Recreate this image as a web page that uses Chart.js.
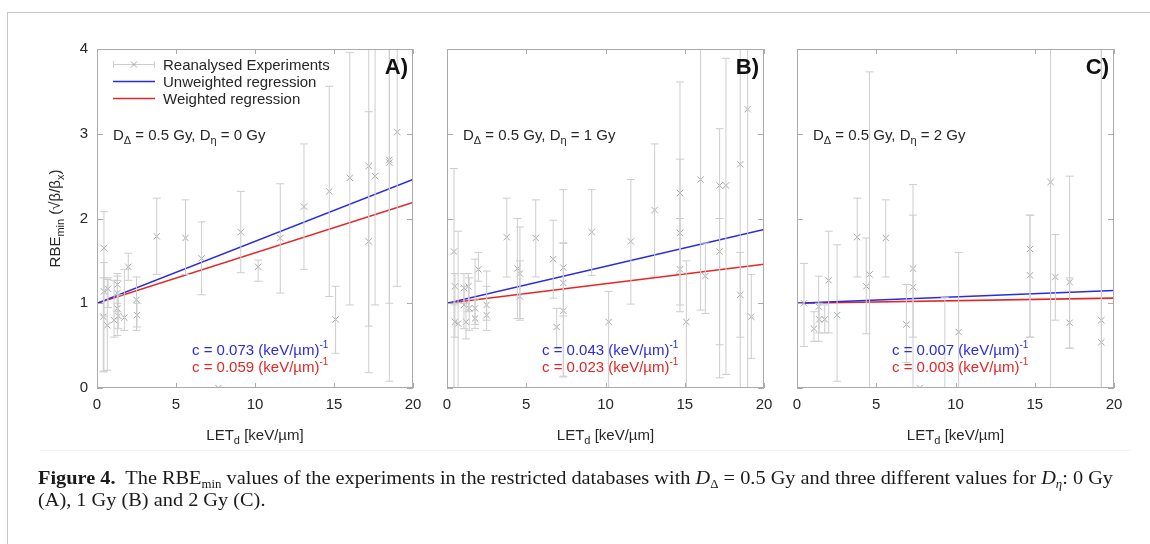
<!DOCTYPE html>
<html><head><meta charset="utf-8">
<script src="https://cdn.jsdelivr.net/npm/chart.js@4.4.1/dist/chart.umd.min.js"></script>
<style>
html,body{margin:0;padding:0;background:#fff;width:1150px;height:544px;overflow:hidden;}
#wrap{position:relative;width:1150px;height:544px;}
canvas{position:absolute;left:0;top:0;}
#frame{position:absolute;left:7px;top:12px;width:1160px;height:560px;border-left:1px solid #c6c6c6;border-top:1px solid #c6c6c6;}
#sep{position:absolute;left:40px;top:450px;width:1090px;height:1px;background:#f3f3f3;}
#cap{position:absolute;left:38px;top:467px;font-family:"Liberation Serif","Times New Roman",serif;font-size:19px;line-height:22px;color:#1a1a1a;white-space:nowrap;transform-origin:0 0;}
#cap sub{font-size:12px;vertical-align:-4px;line-height:0;}
</style></head><body>
<div id="wrap">
<div id="frame"></div><div id="sep"></div>
<canvas id="cA" width="1150" height="544"></canvas>
<canvas id="cB" width="1150" height="544"></canvas>
<canvas id="cC" width="1150" height="544"></canvas>
<div id="cap"><span id="l1"><b>Figure 4.</b>&nbsp; The RBE<sub>min</sub> values of the experiments in the restricted databases with <i>D</i><sub>Δ</sub> = 0.5 Gy and three different values for <i>D</i><sub><i>η</i></sub>: 0 Gy</span><br>(A), 1 Gy (B) and 2 Gy (C).</div>
</div>
<script>
// ---------- data ----------
const xTicks = [0, 5, 10, 15, 20];
const yTicks = [0, 1, 2, 3, 4];
const fitX = [0, 20];

// Panel A  (D_eta = 0 Gy)
const letA = [0.40,0.44,0.44,0.65,0.70,1.08,1.29,1.29,1.29,1.35,1.73,1.98,2.50,2.53,3.78,5.60,6.62,7.68,9.10,10.2,11.6,13.1,14.7,15.1,16.0,17.2,17.2,17.6,18.5,18.5,19.0];
const rbeA = [0.84,1.65,1.14,0.74,1.17,0.80,1.22,1.12,0.94,0.85,0.83,1.43,1.04,0.86,1.79,1.77,1.53,0.00,1.84,1.43,1.77,2.14,2.32,0.81,2.48,2.62,1.73,2.50,2.69,2.66,3.02];
const loA  = [0.19,0.20,0.85,0.21,0.95,0.60,1.00,0.90,0.62,0.70,0.68,1.27,0.68,0.72,1.34,1.34,1.10,0.00,1.36,1.26,1.12,1.40,1.08,0.41,0.98,0.18,0.73,0.98,0.08,1.00,1.20];
const hiA  = [1.30,2.08,1.48,1.28,1.30,1.27,1.35,1.32,1.27,1.10,1.40,1.59,1.31,1.00,2.24,2.22,1.96,0.00,2.32,1.51,2.41,2.88,3.56,1.20,3.96,3.26,4.60,4.50,5.00,4.50,5.00];
const unwA = [1.00, 2.46];
const wA   = [1.00, 2.19];

// Panel B  (D_eta = 1 Gy)
const letB = [0.44,0.50,0.50,0.70,1.07,1.07,1.20,1.35,1.40,1.77,1.77,1.98,2.50,2.50,3.77,4.44,4.60,4.60,5.60,6.70,6.92,7.34,7.34,7.34,9.13,10.2,11.6,13.1,14.7,14.7,14.7,15.1,16.0,16.3,17.2,17.2,17.6,18.5,18.5,18.97,19.2];
const rbeB = [1.61,1.20,0.78,0.76,1.18,0.98,0.78,1.20,0.94,0.82,0.94,1.40,0.86,0.98,1.78,1.41,1.35,1.08,1.77,1.52,0.72,1.42,1.24,0.91,1.84,0.78,1.73,2.10,2.30,1.83,1.40,0.78,2.46,1.32,2.39,1.61,2.39,2.64,1.10,3.29,0.84];
const loB  = [0.00,0.98,0.60,0.00,1.00,0.70,0.58,0.90,0.68,0.70,0.75,1.26,0.68,0.80,1.31,0.82,0.80,0.82,1.31,1.06,0.47,0.13,0.85,0.14,1.33,0.00,0.99,1.32,0.98,1.35,0.90,0.00,0.92,0.88,0.51,0.12,0.16,0.00,0.60,0.00,0.35];
const hiB  = [2.59,1.35,1.00,1.85,1.35,1.20,1.00,1.35,1.30,1.05,1.52,1.60,1.38,1.20,2.24,2.00,1.90,1.50,2.22,1.98,0.94,2.34,1.71,1.71,2.34,1.14,2.46,2.88,3.61,2.70,2.00,1.50,4.50,1.71,3.06,2.00,3.89,4.50,1.60,5.00,1.34];
const unwB = [1.00, 1.87];
const wB   = [1.00, 1.46];

// Panel C  (D_eta = 2 Gy)
const letC = [0.44,1.07,1.37,1.40,1.75,2.00,2.53,3.80,4.37,4.58,5.60,6.90,7.32,7.32,7.74,9.33,10.2,14.7,14.7,16.0,16.3,17.2,17.2,19.2,19.2];
const rbeC = [1.00,0.70,0.96,0.81,0.81,1.27,0.86,1.78,1.20,1.34,1.77,0.75,1.41,1.19,0.00,-0.30,0.66,1.64,1.33,2.43,1.31,1.25,0.77,0.80,0.54];
const loC  = [0.49,0.55,0.55,0.65,0.65,0.65,0.08,1.31,0.64,0.00,1.31,0.30,0.60,0.00,0.00,-1.0,0.00,0.60,0.60,0.00,0.80,0.47,0.47,0.00,0.00];
const hiC  = [1.47,0.90,1.32,1.00,0.98,1.85,1.69,2.24,1.77,3.73,2.22,1.22,2.40,2.04,0.00,1.07,1.60,2.04,2.04,5.00,1.81,2.50,1.30,5.00,5.00];
const unwC = [1.00, 1.15];
const wC   = [1.00, 1.06];

// ---------- styling ----------
const FONT = '"Liberation Sans", Arial, sans-serif';
const BLUE = '#2a2ae0', RED = '#e32626', TXT = '#262626';
const FRAME = '#ababab', ERR = '#cdcdcd', PT = '#a5a5a5';

function pts(xs, ys){ return xs.map((x,i)=>({x:x, y:ys[i]})); }
function errData(xs, lo, hi){
  const d = [];
  xs.forEach((x,i)=>{ d.push({x:x,y:lo[i]},{x:x,y:hi[i]},{x:x,y:null}); });
  return d;
}
function fontStr(s){ return (s.b?'bold ':'') + s.s + 'px ' + FONT; }
function richWidth(ctx, segs){ let w=0; segs.forEach(s=>{ ctx.font=fontStr(s); w+=ctx.measureText(s.t).width; }); return w; }
function drawRich(ctx, segs, x, y, align, color){
  const w = richWidth(ctx, segs);
  let cx = align==='center' ? x-w/2 : (align==='right' ? x-w : x);
  ctx.textAlign='left'; ctx.textBaseline='alphabetic';
  segs.forEach(s=>{ ctx.font=fontStr(s); ctx.fillStyle=s.c||color; ctx.fillText(s.t, cx, y+(s.dy||0)); cx+=ctx.measureText(s.t).width; });
}

function makePanel(id, cfg){
  const deco = {
    id:'deco'+id,
    afterDatasetsDraw(chart){
      const ctx = chart.ctx, ca = chart.chartArea, xs = chart.scales.x, ys = chart.scales.y;
      ctx.save();
      // frame
      ctx.strokeStyle = FRAME; ctx.lineWidth = 1;
      ctx.strokeRect(Math.round(ca.left)+0.5, Math.round(ca.top)+0.5, Math.round(ca.right-ca.left)-1, Math.round(ca.bottom-ca.top)-1);
      // inward ticks (mirrored)
      ctx.beginPath();
      xTicks.forEach(v=>{ const px=Math.round(xs.getPixelForValue(v))+0.5;
        ctx.moveTo(px, ca.bottom); ctx.lineTo(px, ca.bottom-5);
        ctx.moveTo(px, ca.top); ctx.lineTo(px, ca.top+5); });
      yTicks.forEach(v=>{ const py=Math.round(ys.getPixelForValue(v))+0.5;
        ctx.moveTo(ca.left, py); ctx.lineTo(ca.left+6, py);
        ctx.moveTo(ca.right, py); ctx.lineTo(ca.right-6, py); });
      ctx.stroke();
      // panel letter
      ctx.font = 'bold 22px ' + FONT; ctx.fillStyle = '#111'; ctx.textAlign='right'; ctx.textBaseline='alphabetic';
      ctx.fillText(cfg.letter, ca.right-5, ca.top+25);
      // dose text
      drawRich(ctx, [{t:'D',s:15},{t:'Δ',s:11,dy:4},{t:' = 0.5 Gy, D',s:15},{t:'η',s:11,dy:4},{t:' = '+cfg.deta+' Gy',s:15}], ca.left+16, 140, 'left', TXT);
      // slopes
      drawRich(ctx, [{t:'c = '+cfg.cu+' (keV/µm)',s:15},{t:'-1',s:10,dy:-7}], ca.left+95, 355, 'left', BLUE);
      drawRich(ctx, [{t:'c = '+cfg.cw+' (keV/µm)',s:15},{t:'-1',s:10,dy:-7}], ca.left+95, 372, 'left', RED);
      // x title
      drawRich(ctx, [{t:'LET',s:15},{t:'d',s:11,dy:4},{t:' [keV/µm]',s:15}], (ca.left+ca.right)/2, 440, 'center', TXT);
      if (cfg.first){
        // y title
        ctx.save(); ctx.translate(60, (ca.top+ca.bottom)/2); ctx.rotate(-Math.PI/2);
        drawRich(ctx, [{t:'RBE',s:15},{t:'min',s:11,dy:4},{t:' (√β/β',s:15},{t:'x',s:11,dy:4},{t:')',s:15}], 0, 0, 'center', TXT);
        ctx.restore();
        // legend
        const lx0 = ca.left+16, lx1 = ca.left+58, tx = ca.left+66;
        ctx.lineWidth = 1;
        ctx.strokeStyle = ERR; ctx.beginPath();
        ctx.moveTo(lx0, 64.5); ctx.lineTo(lx1, 64.5);
        ctx.moveTo(lx0+0.5, 61); ctx.lineTo(lx0+0.5, 68);
        ctx.moveTo(lx1-0.5, 61); ctx.lineTo(lx1-0.5, 68);
        ctx.stroke();
        ctx.strokeStyle = PT; ctx.beginPath();
        const mx=(lx0+lx1)/2; ctx.moveTo(mx-3,61.5); ctx.lineTo(mx+3,67.5); ctx.moveTo(mx+3,61.5); ctx.lineTo(mx-3,67.5); ctx.stroke();
        ctx.lineWidth = 1.6;
        ctx.strokeStyle = BLUE; ctx.beginPath(); ctx.moveTo(lx0,81.5); ctx.lineTo(lx1,81.5); ctx.stroke();
        ctx.strokeStyle = RED; ctx.beginPath(); ctx.moveTo(lx0,98.5); ctx.lineTo(lx1,98.5); ctx.stroke();
        drawRich(ctx, [{t:'Reanalysed Experiments',s:15}], tx, 70, 'left', TXT);
        drawRich(ctx, [{t:'Unweighted regression',s:15}], tx, 87, 'left', TXT);
        drawRich(ctx, [{t:'Weighted regression',s:15}], tx, 104, 'left', TXT);
      }
      ctx.restore();
    }
  };
  return new Chart(document.getElementById(id), {
    type:'scatter',
    data:{ datasets:[
      { type:'line', label:'errors', data:errData(cfg.let, cfg.lo, cfg.hi), borderColor:ERR, borderWidth:1,
        pointStyle:'line', pointRadius:4, pointBorderColor:ERR, pointBorderWidth:1, spanGaps:false, showLine:true, tension:0, clip:0 },
      { type:'scatter', label:'Reanalysed Experiments', data:pts(cfg.let, cfg.rbe), pointStyle:'crossRot', pointRadius:4.5,
        borderColor:PT, pointBorderColor:PT, pointBorderWidth:1, clip:0 },
      { type:'line', label:'Unweighted regression', data:pts(fitX, cfg.unw), borderColor:BLUE, borderWidth:1.6, pointRadius:0, tension:0, clip:0 },
      { type:'line', label:'Weighted regression', data:pts(fitX, cfg.w), borderColor:RED, borderWidth:1.6, pointRadius:0, tension:0, clip:0 }
    ]},
    options:{
      responsive:false, animation:false, events:[],
      layout:{ padding:{ left:cfg.padL, top:49, right:cfg.padR, bottom:0 } },
      plugins:{ legend:{display:false}, tooltip:{enabled:false} },
      scales:{
        x:{ type:'linear', min:0, max:20,
            afterBuildTicks:s=>{ s.ticks = xTicks.map(v=>({value:v})); },
            afterFit:s=>{ s.height = 544-388; },
            grid:{ display:false, drawTicks:false }, border:{ display:false },
            ticks:{ color:TXT, font:{family:FONT, size:15}, padding:8, maxRotation:0, autoSkip:false } },
        y:{ type:'linear', min:0, max:4, display:cfg.first,
            afterBuildTicks:s=>{ s.ticks = yTicks.map(v=>({value:v})); },
            afterFit:s=>{ s.width = cfg.first ? 97 : 0; },
            grid:{ display:false, drawTicks:false }, border:{ display:false },
            ticks:{ color:TXT, font:{family:FONT, size:15}, padding:9 } }
      }
    },
    plugins:[deco]
  });
}

makePanel('cA', {first:true, letter:'A)', deta:'0', cu:'0.073', cw:'0.059', let:letA, rbe:rbeA, lo:loA, hi:hiA, unw:unwA, w:wA, padL:0, padR:1150-413});
makePanel('cB', {first:false, letter:'B)', deta:'1', cu:'0.043', cw:'0.023', let:letB, rbe:rbeB, lo:loB, hi:hiB, unw:unwB, w:wB, padL:447, padR:1150-764});
makePanel('cC', {first:false, letter:'C)', deta:'2', cu:'0.007', cw:'0.003', let:letC, rbe:rbeC, lo:loC, hi:hiC, unw:unwC, w:wC, padL:797, padR:1150-1114});

// fit caption width to the reference line length
(function(){
  const l1 = document.getElementById('l1'), cap = document.getElementById('cap');
  const w = l1.getBoundingClientRect().width;
  cap.style.transform = 'scaleX(' + (1075 / w) + ')';
})();
</script>
</body></html>
